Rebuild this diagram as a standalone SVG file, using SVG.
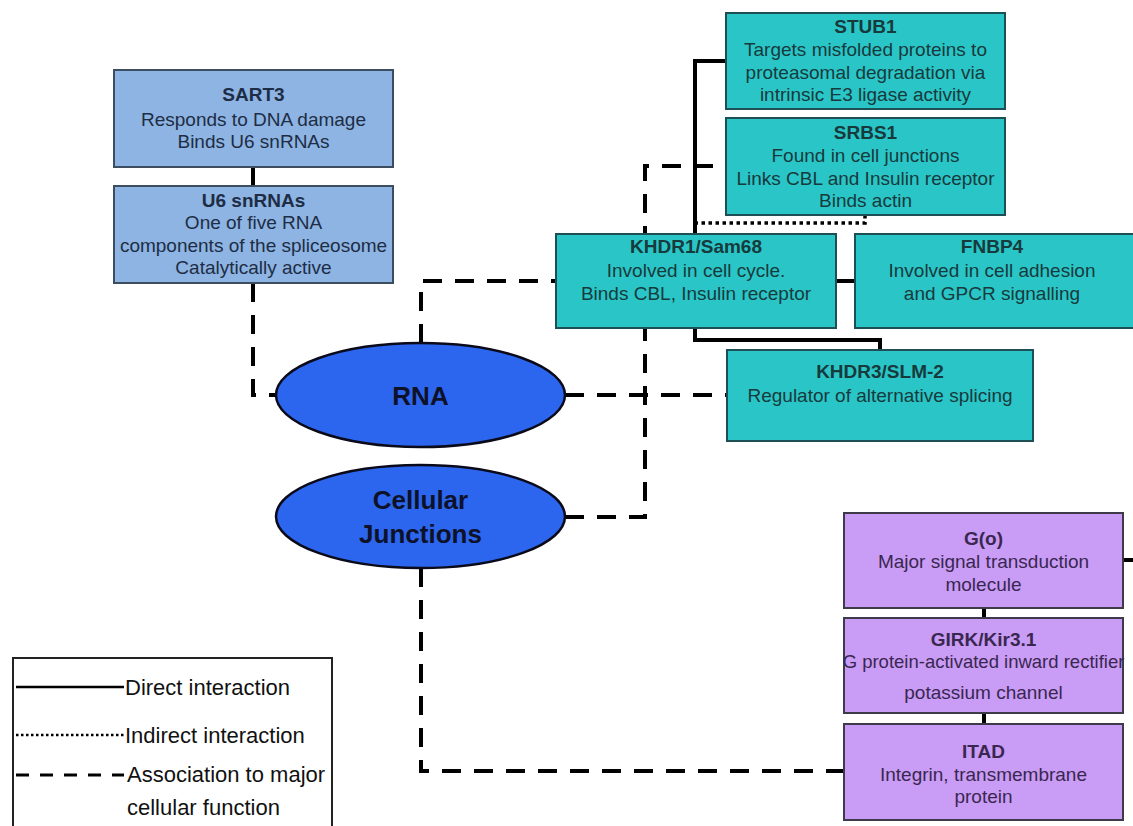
<svg xmlns="http://www.w3.org/2000/svg" width="1133" height="826" viewBox="0 0 1133 826">
<style>
  text { font-family: "Liberation Sans", Arial, sans-serif; text-anchor: middle; }
  .t { font-size: 19px; font-weight: bold; }
  .b { font-size: 19px; }
  .blue rect { fill: #8db4e2; stroke: #3c4d60; stroke-width: 2; }
  .blue text { fill: #1e2d45; }
  .teal rect { fill: #2ac6c7; stroke: #1d4f55; stroke-width: 2; }
  .teal text { fill: #173a3d; }
  .purp rect { fill: #c99cf6; stroke: #3d3a4a; stroke-width: 2; }
  .purp text { fill: #3a2750; }
  .ell ellipse { fill: #2c66ee; stroke: #0a0a1a; stroke-width: 2.5; }
  .ell text { font-size: 26px; font-weight: bold; fill: #0d1228; }
  .solid { fill: none; stroke: #000; stroke-width: 4; }
  .dash { fill: none; stroke: #000; stroke-width: 4; stroke-dasharray: 19 13; }
  .dot { fill: none; stroke: #000; stroke-width: 3.5; stroke-dasharray: 3.5 3.5; }
  .leg text { font-size: 22px; text-anchor: start; fill: #111; }
</style>
<g id="connectors">
  <path class="solid" d="M253,167 V186"/>
  <path class="dash" d="M253,283 V395 H276"/>
  <path class="dash" d="M421,343 V281 H556"/>
  <path class="dash" d="M565,395 H727"/>
  <path class="dash" d="M565,517 H645 V166 H726"/>
  <path class="dash" d="M421,568 V771 H844"/>
  <path class="solid" d="M726,61 H695 V234"/>
  <path class="solid" d="M695,328 V340 H880 V350"/>
  <path class="solid" d="M836,281 H855"/>
  <path class="dot" d="M865,215 V223 H695"/>
  <path class="solid" d="M984,608 V618"/>
  <path class="solid" d="M984,713 V724"/>
  <path class="solid" d="M1123,560 H1133"/>
</g>
<g id="SART3" class="blue">
  <rect x="114" y="70" width="279" height="97"/>
  <text class="t" x="253.5" y="101">SART3</text>
  <text class="b" x="253.5" y="126">Responds to DNA damage</text>
  <text class="b" x="253.5" y="148">Binds U6 snRNAs</text>
</g>
<g id="U6" class="blue">
  <rect x="114" y="186" width="279" height="97"/>
  <text class="t" x="253.5" y="207">U6 snRNAs</text>
  <text class="b" x="253.5" y="229">One of five RNA</text>
  <text class="b" x="253.5" y="252">components of the spliceosome</text>
  <text class="b" x="253.5" y="274">Catalytically active</text>
</g>
<g id="STUB1" class="teal">
  <rect x="726" y="13" width="279" height="96"/>
  <text class="t" x="865.5" y="33">STUB1</text>
  <text class="b" x="865.5" y="56">Targets misfolded proteins to</text>
  <text class="b" x="865.5" y="79">proteasomal degradation via</text>
  <text class="b" x="865.5" y="101">intrinsic E3 ligase activity</text>
</g>
<g id="SRBS1" class="teal">
  <rect x="726" y="118" width="279" height="97"/>
  <text class="t" x="865.5" y="139">SRBS1</text>
  <text class="b" x="865.5" y="162">Found in cell junctions</text>
  <text class="b" x="865.5" y="185">Links CBL and Insulin receptor</text>
  <text class="b" x="865.5" y="207">Binds actin</text>
</g>
<g id="KHDR1" class="teal">
  <rect x="556" y="234" width="280" height="94"/>
  <text class="t" x="696" y="253">KHDR1/Sam68</text>
  <text class="b" x="696" y="277">Involved in cell cycle.</text>
  <text class="b" x="696" y="300">Binds CBL, Insulin receptor</text>
</g>
<g id="FNBP4" class="teal">
  <rect x="855" y="234" width="284" height="94"/>
  <text class="t" x="992" y="253">FNBP4</text>
  <text class="b" x="992" y="277">Involved in cell adhesion</text>
  <text class="b" x="992" y="300">and GPCR signalling</text>
</g>
<g id="KHDR3" class="teal">
  <rect x="727" y="350" width="306" height="91"/>
  <text class="t" x="880" y="378">KHDR3/SLM-2</text>
  <text class="b" x="880" y="402">Regulator of alternative splicing</text>
</g>
<g id="RNA" class="ell">
  <ellipse cx="420.5" cy="395" rx="144.5" ry="52"/>
  <text x="420.5" y="405">RNA</text>
</g>
<g id="CellularJunctions" class="ell">
  <ellipse cx="420.5" cy="516.5" rx="144.5" ry="51.5"/>
  <text x="420.5" y="509">Cellular</text>
  <text x="420.5" y="543">Junctions</text>
</g>
<g id="Go" class="purp">
  <rect x="844" y="513" width="279" height="95"/>
  <text class="t" x="983.5" y="545">G(o)</text>
  <text class="b" x="983.5" y="568">Major signal transduction</text>
  <text class="b" x="983.5" y="591">molecule</text>
</g>
<g id="GIRK" class="purp">
  <rect x="844" y="618" width="279" height="95"/>
  <text class="t" x="983.5" y="646">GIRK/Kir3.1</text>
  <text class="b" x="983.5" y="668" style="font-size:18.5px">G protein-activated inward rectifier</text>
  <text class="b" x="983.5" y="699">potassium channel</text>
</g>
<g id="ITAD" class="purp">
  <rect x="844" y="724" width="279" height="96"/>
  <text class="t" x="983.5" y="758">ITAD</text>
  <text class="b" x="983.5" y="781">Integrin, transmembrane</text>
  <text class="b" x="983.5" y="803">protein</text>
</g>
<g id="legend" class="leg">
  <rect x="13" y="658" width="319" height="200" fill="#fff" stroke="#222" stroke-width="2"/>
  <line x1="16" y1="687" x2="124" y2="687" stroke="#000" stroke-width="2.5"/>
  <line x1="16" y1="735" x2="124" y2="735" stroke="#000" stroke-width="2.5" stroke-dasharray="2.5 2.5"/>
  <line x1="16" y1="775" x2="124" y2="775" stroke="#000" stroke-width="3" stroke-dasharray="13 11"/>
  <text x="125" y="695">Direct interaction</text>
  <text x="125" y="743">Indirect interaction</text>
  <text x="127" y="782">Association to major</text>
  <text x="127" y="815">cellular function</text>
</g>
</svg>
